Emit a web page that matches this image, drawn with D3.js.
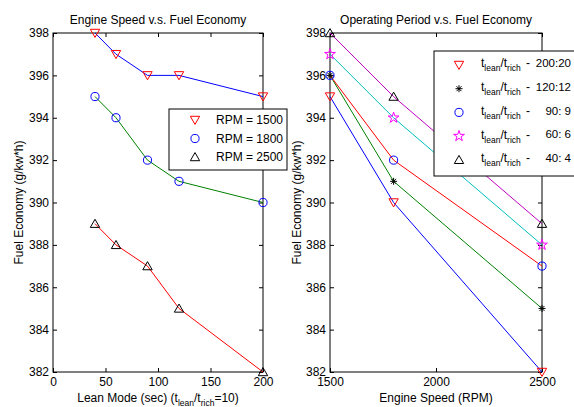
<!DOCTYPE html>
<html>
<head>
<meta charset="utf-8">
<script src="https://cdn.jsdelivr.net/npm/d3@7"></script>
<style>
  body { margin: 0; background: #fff; }
  text { font-family: "Liberation Sans", Arial, Helvetica, sans-serif; fill: #000; }
</style>
</head>
<body>
<svg id="chart" width="574" height="407"></svg>
<script>
// ---- data ----
const leanTimes = [40, 60, 90, 120, 200];
const rpmLabels = ["RPM = 1500", "RPM = 1800", "RPM = 2500"];
const fuelRpm1500 = [398, 397, 396, 396, 395];
const fuelRpm1800 = [395, 394, 392, 391, 390];
const fuelRpm2500 = [389, 388, 387, 385, 382];

const engineSpeeds = [1500, 1800, 2500];
const ratioLabels = ["200:20", "120:12", "90: 9", "60: 6", "40: 4"];
const fuelRatio200 = [395, 390, 382];
const fuelRatio120 = [396, 391, 385];
const fuelRatio90 = [396, 392, 387];
const fuelRatio60 = [397, 394, 388];
const fuelRatio40 = [398, 395, 389];

const leanTicks = [0, 50, 100, 150, 200];
const speedTicks = [1500, 2000, 2500];
const fuelTicks = [382, 384, 386, 388, 390, 392, 394, 396, 398];

// ---- styles ----
const FS = 12, SUB = 8.5;
const C = { blue: "#0000ff", green: "#008000", red: "#ff0000", cyan: "#00bfbf", magenta: "#c000c0", black: "#000000" };

const svg = d3.select("#chart");

// marker shapes
function markerPath(kind) {
  if (kind === "tri-down") return d3.symbol(d3.symbolTriangle, 38)();
  if (kind === "tri-up") return d3.symbol(d3.symbolTriangle, 38)();
  if (kind === "circle") return d3.symbol(d3.symbolCircle, 52)();
  if (kind === "star") return d3.symbol(d3.symbolStar, 36)();
  if (kind === "asterisk") {
    const r = 3.5, d = r * Math.SQRT1_2;
    return `M${-r},0L${r},0M0,${-r}L0,${r}M${-d},${-d}L${d},${d}M${-d},${d}L${d},${-d}`;
  }
}
function drawMarker(g, x, y, kind, color) {
  const rot = kind === "tri-down" ? " rotate(180)" : "";
  const dy = kind === "tri-down" ? -1 : (kind === "tri-up" ? 1 : 0);
  g.append("path")
    .attr("d", markerPath(kind))
    .attr("transform", `translate(${x},${y + dy})${rot}`)
    .attr("fill", "none")
    .attr("stroke", color)
    .attr("stroke-width", 1);
}

// axes frame with inward ticks on all four sides
function frame(g, x, y, xTicks, w, h) {
  g.append("g").attr("transform", `translate(0,${h})`)
    .call(d3.axisBottom(x).tickValues(xTicks).tickFormat(d3.format("d")).tickSizeInner(-4).tickSizeOuter(0).tickPadding(5))
    .call(a => a.select(".domain").remove());
  g.append("g")
    .call(d3.axisTop(x).tickValues(xTicks).tickSizeInner(-4).tickSizeOuter(0).tickFormat(""))
    .call(a => a.select(".domain").remove());
  g.append("g")
    .call(d3.axisLeft(y).tickValues(fuelTicks).tickFormat(d3.format("d")).tickSizeInner(-4).tickSizeOuter(0).tickPadding(4))
    .call(a => a.select(".domain").remove());
  g.append("g").attr("transform", `translate(${w},0)`)
    .call(d3.axisRight(y).tickValues(fuelTicks).tickSizeInner(-4).tickSizeOuter(0).tickFormat(""))
    .call(a => a.select(".domain").remove());
  g.selectAll(".tick line").attr("stroke", "#000");
  g.selectAll(".tick text").attr("font-size", FS).attr("font-family", null);
  g.append("rect").attr("width", w).attr("height", h)
    .attr("fill", "none").attr("stroke", "#000").attr("stroke-width", 1);
}

function subText(t, parts) {
  // parts: [text, isSubscript]
  let prevSub = false;
  parts.forEach(([s, sub]) => {
    const ts = t.append("tspan").text(s).attr("font-size", sub ? SUB : FS);
    if (sub && !prevSub) ts.attr("dy", 4);
    if (!sub && prevSub) ts.attr("dy", -4);
    prevSub = sub;
  });
}

// ================= left panel =================
const L = { left: 53, top: 33, w: 210, h: 339 };
const gL = svg.append("g").attr("transform", `translate(${L.left},${L.top})`);
const xL = d3.scaleLinear().domain([0, 200]).range([0, L.w]);
const yL = d3.scaleLinear().domain([382, 398]).range([L.h, 0]);
frame(gL, xL, yL, leanTicks, L.w, L.h);

const leftSeries = [
  { vals: fuelRpm1500, line: C.blue, marker: "tri-down", mc: C.red },
  { vals: fuelRpm1800, line: C.green, marker: "circle", mc: C.blue },
  { vals: fuelRpm2500, line: C.red, marker: "tri-up", mc: C.black }
];
const lineL = d3.line().x((d, i) => xL(leanTimes[i])).y(d => yL(d));
leftSeries.forEach(s => {
  gL.append("path").attr("d", lineL(s.vals)).attr("fill", "none").attr("stroke", s.line).attr("stroke-width", 1);
});
leftSeries.forEach(s => {
  s.vals.forEach((v, i) => drawMarker(gL, xL(leanTimes[i]), yL(v), s.marker, s.mc));
});

gL.append("text").attr("x", L.w / 2).attr("y", -9).attr("text-anchor", "middle")
  .attr("font-size", FS).text("Engine Speed v.s. Fuel Economy");

const xlabL = gL.append("text").attr("x", L.w / 2).attr("y", L.h + 30).attr("text-anchor", "middle").attr("font-size", FS);
subText(xlabL, [["Lean Mode (sec) (t", false], ["lean", true], ["/t", false], ["rich", true], ["=10)", false]]);

gL.append("text").attr("transform", `translate(${-30},${L.h / 2}) rotate(-90)`)
  .attr("text-anchor", "middle").attr("font-size", FS).text("Fuel Economy (g/kw*h)");

// legend (left)
const legL = svg.append("g").attr("transform", "translate(169,109)");
legL.append("rect").attr("width", 118).attr("height", 61).attr("fill", "#fff").attr("stroke", "#000").attr("stroke-width", 1);
leftSeries.forEach((s, i) => {
  const yy = 11 + i * 18.5;
  drawMarker(legL, 26, yy, s.marker, s.mc);
  legL.append("text").attr("x", 47).attr("y", yy).attr("dy", "0.36em").attr("font-size", FS).text(rpmLabels[i]);
});

// ================= right panel =================
const R = { left: 330, top: 33, w: 212, h: 339 };
const gR = svg.append("g").attr("transform", `translate(${R.left},${R.top})`);
const xR = d3.scaleLinear().domain([1500, 2500]).range([0, R.w]);
const yR = d3.scaleLinear().domain([382, 398]).range([R.h, 0]);
frame(gR, xR, yR, speedTicks, R.w, R.h);

const rightSeries = [
  { vals: fuelRatio200, line: C.blue, marker: "tri-down", mc: C.red },
  { vals: fuelRatio120, line: C.green, marker: "asterisk", mc: C.black },
  { vals: fuelRatio90, line: C.red, marker: "circle", mc: C.blue },
  { vals: fuelRatio60, line: C.cyan, marker: "star", mc: "#ff00ff" },
  { vals: fuelRatio40, line: C.magenta, marker: "tri-up", mc: C.black }
];
const lineR = d3.line().x((d, i) => xR(engineSpeeds[i])).y(d => yR(d));
rightSeries.forEach(s => {
  gR.append("path").attr("d", lineR(s.vals)).attr("fill", "none").attr("stroke", s.line).attr("stroke-width", 1);
});
rightSeries.forEach(s => {
  s.vals.forEach((v, i) => drawMarker(gR, xR(engineSpeeds[i]), yR(v), s.marker, s.mc));
});

gR.append("text").attr("x", R.w / 2).attr("y", -9).attr("text-anchor", "middle")
  .attr("font-size", FS).text("Operating Period v.s. Fuel Economy");
gR.append("text").attr("x", R.w / 2).attr("y", R.h + 30).attr("text-anchor", "middle")
  .attr("font-size", FS).text("Engine Speed (RPM)");
gR.append("text").attr("transform", `translate(${-29},${R.h / 2}) rotate(-90)`)
  .attr("text-anchor", "middle").attr("font-size", FS).text("Fuel Economy (g/kw*h)");

// legend (right)
const legR = svg.append("g").attr("transform", "translate(434,51)");
legR.append("rect").attr("width", 160).attr("height", 125).attr("fill", "#fff").attr("stroke", "#000").attr("stroke-width", 1);
rightSeries.forEach((s, i) => {
  const yy = 14 + i * 23.7;
  drawMarker(legR, 25, yy, s.marker, s.mc);
  const t = legR.append("text").attr("x", 47).attr("y", yy).attr("dy", "0.2em").attr("font-size", FS);
  subText(t, [["t", false], ["lean", true], ["/t", false], ["rich", true]]);
  legR.append("text").attr("x", 92).attr("y", yy).attr("dy", "0.2em").attr("font-size", FS).text("-");
  legR.append("text").attr("x", 137).attr("y", yy).attr("dy", "0.2em").attr("text-anchor", "end")
    .attr("font-size", 11.5).text(ratioLabels[i]);
});
</script>
</body>
</html>
